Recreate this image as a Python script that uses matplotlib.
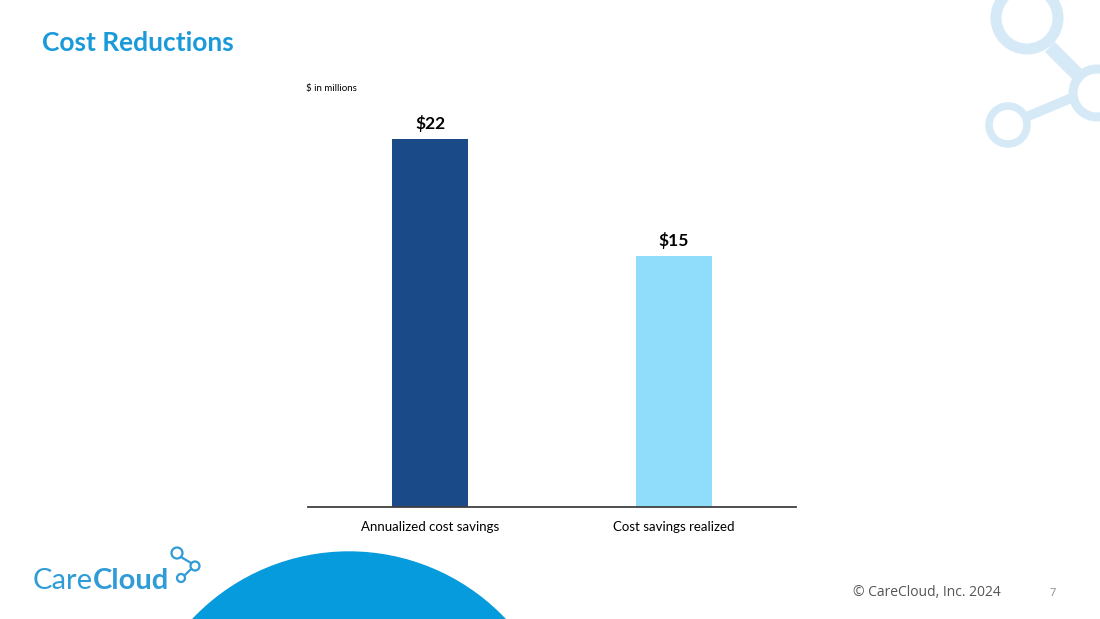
import matplotlib.pyplot as plt
from matplotlib.patches import Circle
from matplotlib.lines import Line2D

categories = ["Annualized cost savings", "Cost savings realized"]
savings = [22, 15]
value_labels = ["$22", "$15"]
bar_colors = ["#1a4a87", "#8fdcfb"]

W, H = 1100, 619
fig = plt.figure(figsize=(11, 6.19), dpi=100)
fig.patch.set_facecolor("white")

# decoration layer in pixel coordinates
deco = fig.add_axes([0, 0, 1, 1])
deco.set_xlim(0, W)
deco.set_ylim(H, 0)
deco.axis("off")

# big blue dome at the bottom
deco.add_patch(Circle((349, 767), 215, color="#069bdc", zorder=1))

# network icon top right
ring_col = "#d5e9f6"
for cx, cy, r, lw in [(1027, 18, 31, 11), (1097, 93, 24, 9), (1008, 125, 19, 7.5)]:
    deco.add_patch(Circle((cx, cy), r, fill=False, ec=ring_col, lw=lw * 0.72, zorder=1))
deco.add_line(Line2D([1050, 1078], [47, 75], color=ring_col, lw=10, solid_capstyle="butt"))
deco.add_line(Line2D([1026, 1074], [117, 97], color=ring_col, lw=7, solid_capstyle="butt"))

# logo
logo_col = "#2f9bd7"
t = deco.text(33, 589, "Care", fontsize=21, color=logo_col, family="Lato",
              va="baseline", ha="left")
fig.canvas.draw()
bb = t.get_window_extent()
x_cloud = deco.transData.inverted().transform((bb.x1, bb.y0))[0]
deco.text(x_cloud, 589, "Cloud", fontsize=21, color=logo_col, family="Lato",
          fontweight="bold", va="baseline", ha="left")
for cx, cy, r in [(177, 553, 5.5), (195, 566, 4.5), (181, 578, 4)]:
    deco.add_patch(Circle((cx, cy), r, fill=False, ec=logo_col, lw=1.6))
deco.add_line(Line2D([181, 191], [557, 563], color=logo_col, lw=1.6))
deco.add_line(Line2D([191, 185], [569, 575], color=logo_col, lw=1.6))

# title and footer
deco.text(42, 43, "Cost Reductions", fontsize=19, fontweight="bold",
          color="#1a9ad9", family="Lato", va="center", ha="left")
deco.text(306, 89, "$ in millions", fontsize=7, color="black", family="Lato",
          va="center", ha="left")
deco.text(1001, 593, "\u00a9 CareCloud, Inc. 2024", fontsize=10, color="#555555",
          family="Open Sans", va="center", ha="right")
deco.text(1053, 593, "7", fontsize=8, color="#888888", family="Open Sans",
          va="center", ha="center")

# chart
ax = fig.add_axes([308 / W, 1 - 507 / H, 488 / W, 407 / H])
ax.set_facecolor("none")
x = range(len(categories))
bars = ax.bar(x, savings, width=0.315, color=bar_colors, zorder=2)
ax.set_xlim(-0.5, 1.5)
ax.set_ylim(0, 24.3)
for rect, lab in zip(bars, value_labels):
    ax.annotate(lab, (rect.get_x() + rect.get_width() / 2, rect.get_height()),
                xytext=(0, 5), textcoords="offset points", ha="center", va="bottom",
                fontsize=12.5, fontweight="bold", family="Lato")
ax.set_xticks(list(x))
ax.set_xticklabels(categories, fontsize=9.5, family="Lato")
ax.tick_params(axis="x", length=0, pad=10)
ax.set_yticks([])
for s in ["top", "right", "left"]:
    ax.spines[s].set_visible(False)
ax.spines["bottom"].set_color("#404040")
ax.spines["bottom"].set_linewidth(1.3)

fig.savefig("out.png", dpi=100)
